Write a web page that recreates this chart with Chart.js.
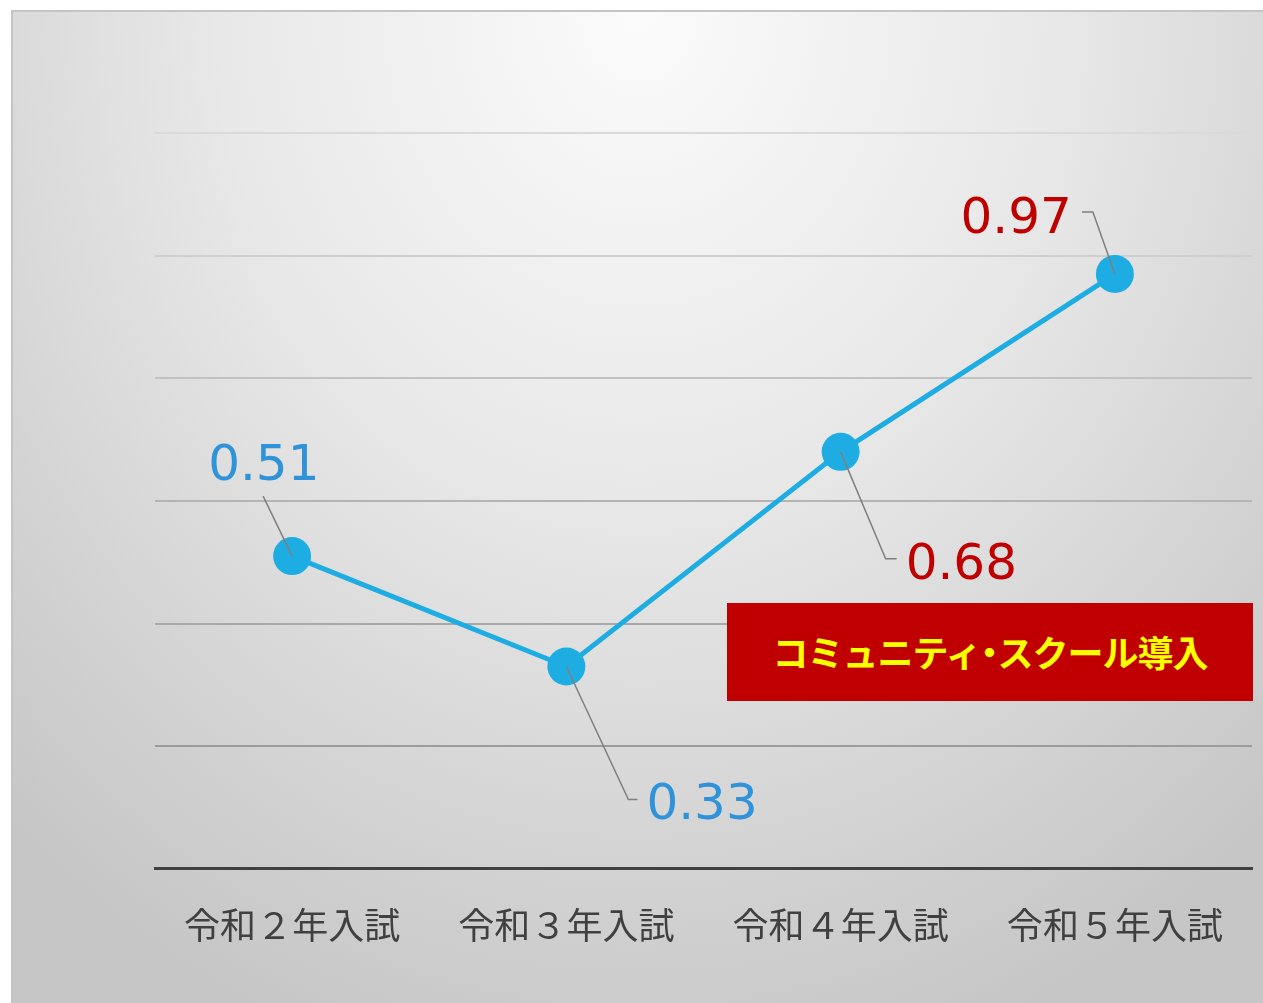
<!DOCTYPE html>
<html lang="ja">
  <head>
    <meta charset="UTF-8" />
    <title>令和入試 推移</title>
    <script src="https://cdn.jsdelivr.net/npm/chart.js@4.4.1/dist/chart.umd.min.js"></script>
    <style>
      html, body {
        margin: 0;
        padding: 0;
        background: #ffffff;
        width: 1263px;
        height: 1003px;
        overflow: hidden;
      }
      .frame {
        position: absolute;
        left: 11px;
        top: 10px;
        width: 1252px;
        height: 993px;
        box-sizing: border-box;
        border-top: 2px solid #c4c4c4;
        border-left: 2px solid #c4c4c4;
        background: radial-gradient(ellipse 75% 110% at 50% 0%, #fbfbfb 0%, #e8e8e8 45%, #d2d2d2 80%, #c6c6c6 100%);
      }
      #rateChart {
        position: absolute;
        left: 0;
        top: 0;
      }
      .note {
        position: absolute;
        left: 727px;
        top: 603px;
        width: 526px;
        height: 98px;
        background: #c00000;
        color: #ffff00;
        font-family: "Noto Sans CJK JP", sans-serif;
        font-weight: bold;
        font-size: 36px;
        line-height: 96px;
        text-align: center;
        letter-spacing: -1px;
      }
      .note .dot {
        margin: 0 -9px;
      }
    </style>
  </head>
  <body>
    <div class="frame"></div>
    <canvas id="rateChart" width="1263" height="1003"></canvas>
    <div class="note">コミュニティ<span class="dot">・</span>スクール導入</div>

    <script>
      // data
      const categories = ["令和２年入試", "令和３年入試", "令和４年入試", "令和５年入試"];
      const rates = [0.51, 0.33, 0.68, 0.97];
      const yTicks = [0, 0.2, 0.4, 0.6, 0.8, 1.0, 1.2];

      // label placement relative to each point (text anchor + leader elbow)
      const labelColors = ["#2f93d9", "#2f93d9", "#c00000", "#c00000"];
      const labelPlace = [
        { dx: -84, dy: -76, align: "left", leader: [[-29, -60]] },
        { dx: 80, dy: 153, align: "left", leader: [[62, 133], [71, 133]] },
        { dx: 65, dy: 127, align: "left", leader: [[45, 107], [56, 107]] },
        { dx: -43, dy: -41, align: "right", leader: [[-22, -62], [-33, -62]] },
      ];

      const gridColors = ["#404040", "#9c9c9c", "#a8a8a8", "#b4b4b4", "#c2c2c2", "#cfcfcf", "#dadada"];

      const dataLabels = {
        id: "dataLabels",
        afterDatasetsDraw(chart) {
          const ctx = chart.ctx;
          const meta = chart.getDatasetMeta(0);
          ctx.save();
          meta.data.forEach((pt, i) => {
            const p = labelPlace[i];
            ctx.beginPath();
            ctx.moveTo(pt.x, pt.y);
            p.leader.forEach(([lx, ly]) => ctx.lineTo(pt.x + lx, pt.y + ly));
            ctx.strokeStyle = "#7f7f7f";
            ctx.lineWidth = 1.5;
            ctx.stroke();
            ctx.font = "50px 'DejaVu Sans', sans-serif";
            ctx.fillStyle = labelColors[i];
            ctx.textAlign = p.align;
            ctx.textBaseline = "alphabetic";
            ctx.fillText(rates[i].toFixed(2), pt.x + p.dx, pt.y + p.dy);
          });
          ctx.restore();
        },
      };

      const ctx = document.getElementById("rateChart").getContext("2d");
      new Chart(ctx, {
        type: "line",
        data: {
          labels: categories,
          datasets: [
            {
              data: rates,
              borderColor: "#1eade3",
              backgroundColor: "#1eade3",
              borderWidth: 5,
              pointRadius: 19,
              pointHoverRadius: 19,
              pointBorderWidth: 0,
              pointBackgroundColor: "#1eade3",
              tension: 0,
            },
          ],
        },
        plugins: [dataLabels],
        options: {
          responsive: false,
          devicePixelRatio: 1,
          animation: false,
          layout: {
            autoPadding: false,
            padding: { left: 155, top: 133, right: 11, bottom: 21 },
          },
          plugins: {
            legend: { display: false },
            tooltip: { enabled: false },
          },
          scales: {
            x: {
              offset: true,
              grid: { display: false, drawTicks: false },
              border: { display: true, color: "#404040", width: 3 },
              ticks: {
                padding: 35,
                color: "#404040",
                font: { family: "'Noto Sans CJK JP', sans-serif", size: 36 },
              },
              afterFit: (scale) => {
                // labels fit inside their slots, no extra side room needed
                scale.paddingLeft = 0;
                scale.paddingRight = 0;
              },
            },
            y: {
              min: 0,
              max: 1.2,
              afterBuildTicks: (axis) => {
                axis.ticks = yTicks.map((v) => ({ value: v }));
              },
              border: { display: false },
              grid: {
                drawTicks: false,
                lineWidth: 2,
                color: (c) => gridColors[c.index] || "#cccccc",
              },
              ticks: { display: false },
            },
          },
        },
      });
    </script>
  </body>
</html>
